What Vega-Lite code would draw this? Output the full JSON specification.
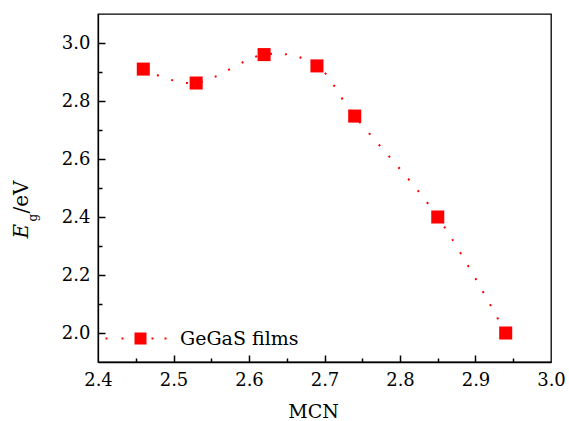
{
  "$schema": "https://vega.github.io/schema/vega-lite/v6.json",
  "width": 453,
  "height": 348,
  "autosize": {"type": "none"},
  "padding": {"left": 98, "top": 14, "right": 18, "bottom": 59},
  "background": "white",
  "config": {
    "view": {"stroke": "#000", "strokeWidth": 1.3},
    "font": "DejaVu Serif",
    "axis": {
      "grid": false,
      "domainColor": "#000",
      "tickColor": "#000",
      "labelColor": "#000",
      "titleColor": "#000",
      "domainWidth": 1.3,
      "tickWidth": 1.5,
      "labelFont": "DejaVu Serif",
      "titleFont": "DejaVu Serif",
      "titleFontWeight": "normal",
      "labelFlush": false,
      "labelOverlap": false,
      "labelBound": false
    }
  },
  "data": {
    "values": [
      {"mcn": 2.46, "eg": 2.91},
      {"mcn": 2.53, "eg": 2.862},
      {"mcn": 2.62, "eg": 2.96},
      {"mcn": 2.69, "eg": 2.921},
      {"mcn": 2.74, "eg": 2.748},
      {"mcn": 2.85, "eg": 2.40},
      {"mcn": 2.94, "eg": 2.00}
    ]
  },
  "resolve": {"axis": {"x": "independent", "y": "independent"}},
  "layer": [
    {
      "mark": {"type": "line", "color": "#ff0000", "strokeWidth": 2, "strokeDash": [2, 13], "interpolate": "cardinal"},
      "encoding": {
        "x": {
          "field": "mcn", "type": "quantitative",
          "scale": {"domain": [2.4, 3.0], "nice": false, "zero": false},
          "axis": {"orient": "bottom", "values": [2.5, 2.6, 2.7, 2.8, 2.9], "labels": false, "ticks": true, "tickSize": 7, "offset": -7, "domain": false, "title": null, "zindex": 1}
        },
        "y": {
          "field": "eg", "type": "quantitative",
          "scale": {"domain": [1.9, 3.1], "nice": false, "zero": false},
          "axis": {
            "orient": "left", "values": [2.0, 2.2, 2.4, 2.6, 2.8, 3.0], "labels": false, "ticks": true, "tickSize": 7, "offset": -7, "domain": false, "zindex": 1,
            "title": "E", "titleFontStyle": "italic", "titleFontSize": 20, "titleAngle": -90,
            "titleAlign": "left", "titleBaseline": "alphabetic", "titleX": -78, "titleY": 224
          }
        }
      }
    },
    {
      "mark": {"type": "point", "shape": "square", "filled": true, "size": 170, "opacity": 1},
      "encoding": {
        "x": {
          "field": "mcn", "type": "quantitative",
          "scale": {"domain": [2.4, 3.0], "nice": false, "zero": false},
          "axis": {
            "orient": "bottom", "values": [2.4, 2.5, 2.6, 2.7, 2.8, 2.9, 3.0], "ticks": false, "domain": true, "zindex": 1,
            "labelFontSize": 18, "labelPadding": 23, "labelBaseline": "alphabetic", "format": ".1f",
            "title": "MCN", "titleFontSize": 19, "titleX": 215, "titleY": 55, "titleBaseline": "alphabetic", "titleAlign": "center"
          }
        },
        "y": {
          "field": "eg", "type": "quantitative",
          "scale": {"domain": [1.9, 3.1], "nice": false, "zero": false},
          "axis": {
            "orient": "left", "values": [2.0, 2.2, 2.4, 2.6, 2.8, 3.0], "ticks": false, "domain": true, "zindex": 1,
            "labelFontSize": 18, "labelPadding": 8, "labelBaseline": "middle", "format": ".1f",
            "title": "/eV", "titleFontSize": 20, "titleAngle": -90,
            "titleAlign": "left", "titleBaseline": "alphabetic", "titleX": -71, "titleY": 199
          }
        },
        "color": {
          "datum": "GeGaS films", "type": "nominal",
          "scale": {"range": ["#ff0000"]},
          "legend": {
            "orient": "none", "legendX": 33, "legendY": 315, "title": null, "padding": 0,
            "symbolType": "M-0.857,-0.857H0.857V0.857H-0.857Z M-5,-0.143H-4.714V0.143H-5Z M-2.714,-0.143H-2.429V0.143H-2.714Z M1.571,-0.143H1.857V0.143H1.571Z M3.429,-0.143H3.714V0.143H3.429Z",
            "symbolSize": 196, "symbolStrokeWidth": 0, "symbolOpacity": 1, "symbolFillColor": "#ff0000",
            "labelFontSize": 19, "labelOffset": 30, "labelFont": "DejaVu Serif", "labelColor": "#000"
          }
        }
      }
    },
    {
      "mark": {"type": "point", "opacity": 0},
      "encoding": {
        "x": {
          "field": "mcn", "type": "quantitative",
          "scale": {"domain": [2.4, 3.0], "nice": false, "zero": false},
          "axis": {"orient": "bottom", "values": [2.45, 2.55, 2.65, 2.75, 2.85, 2.95], "labels": false, "ticks": true, "tickSize": 4, "offset": -4, "domain": false, "title": null, "zindex": 1}
        },
        "y": {
          "field": "eg", "type": "quantitative",
          "scale": {"domain": [1.9, 3.1], "nice": false, "zero": false},
          "axis": {
            "orient": "left", "values": [2.1, 2.3, 2.5, 2.7, 2.9], "labels": false, "ticks": true, "tickSize": 4, "offset": -4, "domain": false, "zindex": 1,
            "title": "g", "titleFontSize": 12, "titleAngle": -90,
            "titleAlign": "left", "titleBaseline": "alphabetic", "titleX": -66, "titleY": 207
          }
        }
      }
    }
  ]
}
